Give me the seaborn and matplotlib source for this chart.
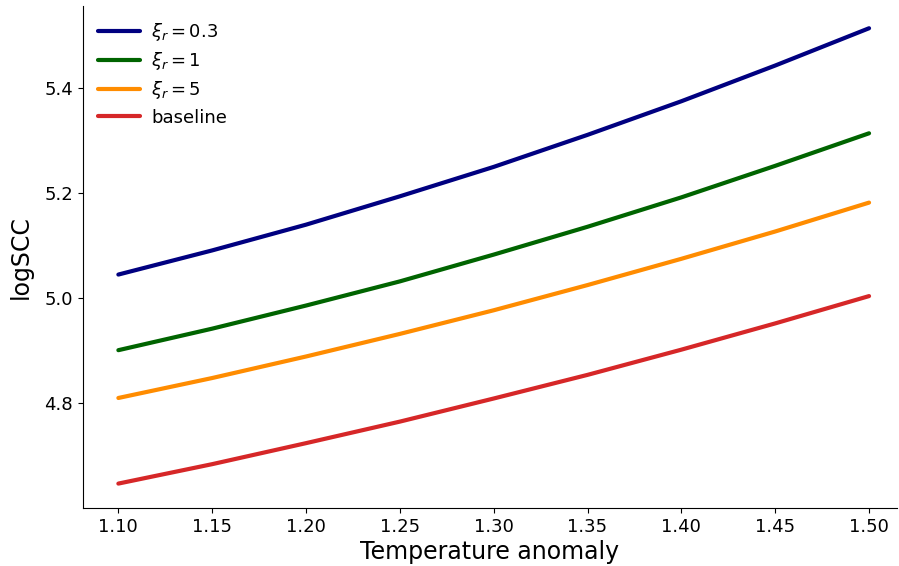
import numpy as np
import pandas as pd
import seaborn as sns
import matplotlib.pyplot as plt

temperature = [1.10, 1.15, 1.20, 1.25, 1.30, 1.35, 1.40, 1.45, 1.50]
xi_03 = [5.045, 5.091, 5.140, 5.194, 5.250, 5.311, 5.375, 5.443, 5.514]
xi_1 = [4.901, 4.942, 4.986, 5.032, 5.083, 5.136, 5.192, 5.252, 5.314]
xi_5 = [4.810, 4.848, 4.889, 4.932, 4.977, 5.025, 5.075, 5.127, 5.182]
baseline = [4.647, 4.684, 4.724, 4.765, 4.809, 4.854, 4.902, 4.952, 5.004]

labels = [r'$\xi_r = 0.3$', r'$\xi_r = 1$', r'$\xi_r = 5$', 'baseline']
colors = ['navy', 'darkgreen', 'darkorange', '#d62728']

frames = []
for lab, vals in zip(labels, [xi_03, xi_1, xi_5, baseline]):
    frames.append(pd.DataFrame({'x': temperature, 'y': vals, 'series': lab}))
df = pd.concat(frames, ignore_index=True)

sns.set_style('ticks', {'axes.edgecolor': 'black', 'text.color': 'black',
                        'axes.labelcolor': 'black', 'xtick.color': 'black',
                        'ytick.color': 'black'})
plt.rcParams['font.family'] = ['DejaVu Sans']

fig, ax = plt.subplots(figsize=(8.99, 5.66), dpi=100)
sns.lineplot(data=df, x='x', y='y', hue='series', hue_order=labels,
             palette=colors, linewidth=3, ax=ax)
sns.despine(ax=ax)

ax.set_xlim(1.081, 1.515)
ax.set_ylim(4.6, 5.557)
ax.set_xticks(np.arange(1.10, 1.501, 0.05))
ax.set_yticks([4.8, 5.0, 5.2, 5.4])
ax.tick_params(labelsize=13)
ax.set_xlabel('Temperature anomaly', fontsize=17, labelpad=3)
ax.set_ylabel('logSCC', fontsize=17, labelpad=8)

leg = ax.legend(loc='upper left', frameon=False, fontsize=13, handlelength=2.3,
                labelspacing=0.4, handletextpad=0.65, borderaxespad=0.45)
for line in leg.get_lines():
    line.set_linewidth(3)

fig.subplots_adjust(left=0.092, right=0.998, bottom=0.102, top=0.99)
fig.savefig('out.png', dpi=100)
